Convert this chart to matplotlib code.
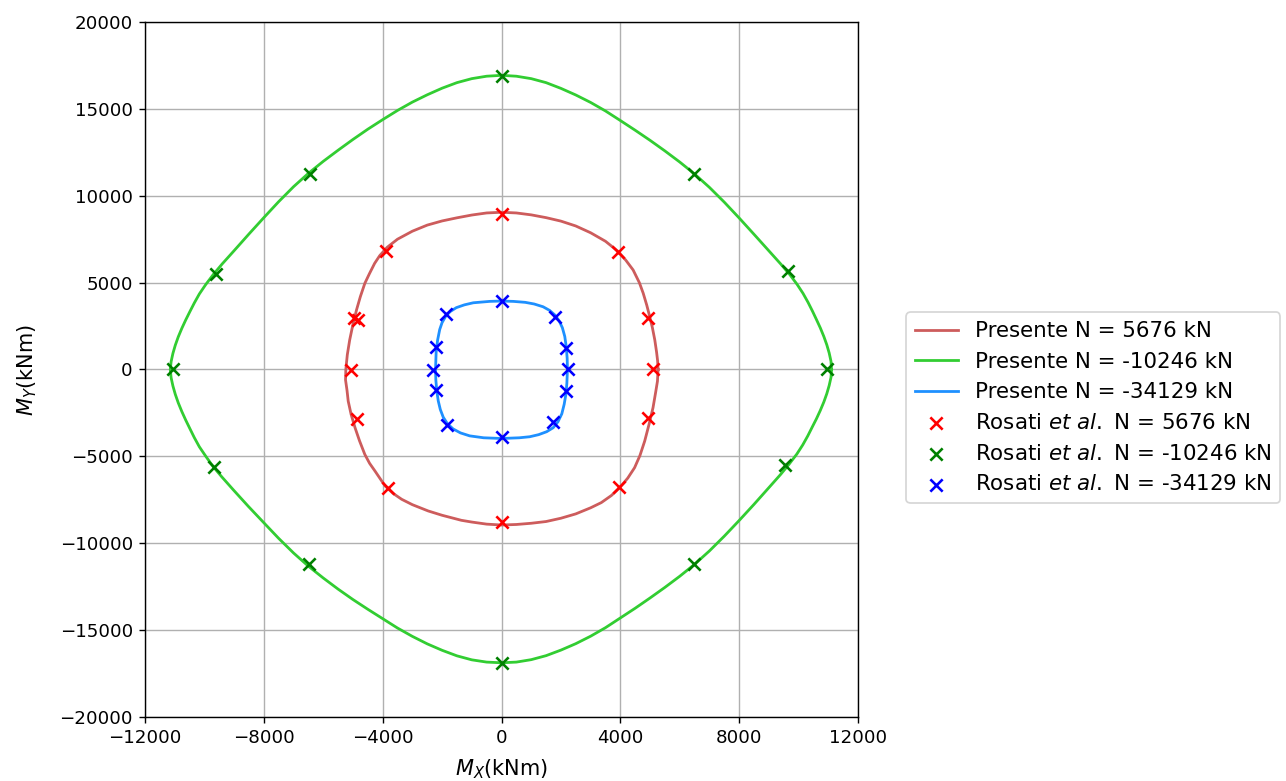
import matplotlib
matplotlib.use("Agg")
import matplotlib.pyplot as plt

# ---- Presente curves (closed loops) ----
green_mx = [11110, 11090, 11030, 10950, 10850, 10730, 10600, 10470, 10320, 10150, 9950, 9700, 9400, 9000,
            8500, 8000, 7500, 7000, 6500, 6000, 5500, 5000, 4500, 4000, 3500, 3000, 2500, 2000, 1500, 1000, 500, 0,
            -500, -1000, -1500, -2000, -2500, -3000, -3500, -4000, -4500, -5000, -5500, -6000, -6500, -7000,
            -7500, -8000, -8500, -9000, -9400, -9700, -9960, -10170, -10340, -10490, -10630, -10760, -10880,
            -10980, -11060, -11120, -11150,
            -11120, -11060, -10980, -10880, -10760, -10630, -10490, -10340, -10170, -9960, -9720, -9420, -9020,
            -8520, -8000, -7500, -7000, -6500, -6000, -5500, -5000, -4500, -4000, -3500, -3000, -2500, -2000,
            -1500, -1000, -500, 0,
            500, 1000, 1500, 2000, 2500, 3000, 3500, 4000, 4500, 5000, 5500, 6000, 6500, 7000, 7500, 8000,
            8500, 9000, 9400, 9680, 9940, 10140, 10310, 10460, 10600, 10730, 10850, 10950, 11030, 11090, 11110]
green_my = [0, 480, 950, 1420, 1900, 2400, 2880, 3350, 3860, 4380, 4900, 5470, 6070, 6830,
            7780, 8720, 9630, 10480, 11250, 11940, 12580, 13190, 13770, 14330, 14880, 15370, 15800, 16180,
            16510, 16740, 16880, 16930,
            16880, 16740, 16510, 16190, 15810, 15390, 14910, 14380, 13830, 13240, 12620, 11980, 11290, 10520,
            9660, 8740, 7800, 6840, 6080, 5470, 4880, 4350, 3830, 3330, 2850, 2370, 1880,
            1400, 930, 460, 0,
            -480, -950, -1430, -1920, -2420, -2910, -3400, -3920, -4450, -4980, -5560, -6170, -6940,
            -7880, -8820, -9720, -10560, -11320, -12000, -12640, -13240, -13800, -14340, -14880, -15360,
            -15790, -16160, -16480, -16710, -16840, -16880,
            -16840, -16700, -16470, -16150, -15780, -15350, -14860, -14300, -13740, -13150, -12540, -11900,
            -11210, -10440, -9590, -8690, -7760, -6800, -6030, -5450, -4870, -4340, -3820, -3310, -2840, -2360,
            -1870, -1390, -920, -460, 0]

red_mx = [5270, 5255, 5220, 5160, 5080, 4990, 4890, 4770, 4640, 4430, 4180, 3900, 3500, 3000, 2500, 2000,
          1500, 1000, 500, 0,
          -500, -1000, -1500, -2000, -2500, -3000, -3500, -3850, -4100, -4270, -4450, -4600, -4750, -4880,
          -5000, -5110, -5190, -5240,
          -5250, -5200, -5160, -5060, -4930, -4780, -4600, -4440, -4260, -3920, -3650, -3360, -3000, -2470,
          -2000, -1350, -1000, -500, 0,
          500, 1000, 1500, 2000, 2500, 3000, 3360, 3700, 3980, 4250, 4480, 4660, 4820, 4960, 5100, 5190,
          5250, 5270]
red_my = [0, 500, 1000, 1700, 2400, 3040, 3700, 4390, 5000, 5730, 6300, 6830, 7380, 7870, 8260, 8540,
          8740, 8900, 9010, 9050,
          9010, 8890, 8730, 8550, 8310, 7960, 7500, 7030, 6550, 6110, 5500, 4960, 4200, 3430,
          2600, 1700, 850, 0,
          -600, -1200, -1820, -2600, -3350, -4100, -4890, -5400, -5840, -6700, -7130, -7470, -7780, -8140,
          -8390, -8680, -8780, -8900, -8950,
          -8920, -8850, -8750, -8560, -8310, -7960, -7660, -7250, -6800, -6250, -5650, -4950, -4120, -3200,
          -2200, -1300, -670, 0]

blue_mx = [2220, 2210, 2180, 2130, 2050, 1940, 1800, 1620, 1400, 1100, 800, 400, 0,
           -400, -950, -1250, -1520, -1730, -1880, -2000, -2080, -2150, -2200, -2220,
           -2210, -2180, -2130, -2060, -1960, -1820, -1630, -1380, -1070, -600, 0,
           600, 950, 1250, 1520, 1740, 1900, 2030, 2110, 2170, 2200, 2220]
blue_my = [0, 650, 1300, 1900, 2400, 2800, 3130, 3400, 3610, 3770, 3865, 3920, 3940,
           3920, 3840, 3720, 3560, 3330, 3060, 2700, 2300, 1700, 1000, 0,
           -600, -1200, -1800, -2300, -2750, -3120, -3420, -3650, -3820, -3930, -3970,
           -3930, -3870, -3750, -3580, -3350, -3010, -2550, -2000, -1400, -800, 0]

# ---- Rosati et al. points ----
red_pts_x = [0, -3890, 3920, -4980, -4830, -5050, -4880, -3810, 0, 3960, 4940, 5100, 4940]
red_pts_y = [8950, 6800, 6780, 2940, 2830, -50, -2870, -6800, -8800, -6750, -2780, 30, 2950]

green_pts_x = [0, -6460, 6490, -9620, 9660, -11050, 10950, -9680, -6490, 0, 6490, 9550]
green_pts_y = [16900, 11270, 11270, 5520, 5660, 0, 0, -5600, -11190, -16900, -11220, -5480]

blue_pts_x = [0, -1870, 1800, -2200, 2170, -2300, 2250, -2200, 2170, -1850, 1740, 0]
blue_pts_y = [3920, 3190, 3030, 1310, 1210, -40, 0, -1190, -1250, -3170, -3010, -3880]

labels_lines = ["Presente N = 5676 kN", "Presente N = -10246 kN", "Presente N = -34129 kN"]
labels_pts = [r"Rosati $\it{et\ al.}$ N = 5676 kN",
              r"Rosati $\it{et\ al.}$ N = -10246 kN",
              r"Rosati $\it{et\ al.}$ N = -34129 kN"]

x_ticks = [-12000, -8000, -4000, 0, 4000, 8000, 12000]
y_ticks = [-20000, -15000, -10000, -5000, 0, 5000, 10000, 15000, 20000]

DPI = 125
fig = plt.figure(figsize=(1286 / DPI, 781 / DPI), dpi=DPI)
ax = fig.add_axes([145 / 1286, 1 - 717 / 781, (858 - 145) / 1286, (717 - 22) / 781])

ax.plot(red_mx, red_my, color="indianred", lw=1.6, label=labels_lines[0])
ax.plot(green_mx, green_my, color="limegreen", lw=1.6, label=labels_lines[1])
ax.plot(blue_mx, blue_my, color="dodgerblue", lw=1.6, label=labels_lines[2])

ax.scatter(red_pts_x, red_pts_y, marker="x", color="red", s=50, linewidths=1.5, zorder=3, label=labels_pts[0])
ax.scatter(green_pts_x, green_pts_y, marker="x", color="green", s=50, linewidths=1.5, zorder=3, label=labels_pts[1])
ax.scatter(blue_pts_x, blue_pts_y, marker="x", color="blue", s=50, linewidths=1.5, zorder=3, label=labels_pts[2])

ax.set_xlim(-12000, 12000)
ax.set_ylim(-20000, 20000)
ax.set_xticks(x_ticks)
ax.set_yticks(y_ticks)
ax.tick_params(labelsize=10.5)
ax.grid(True)
ax.set_axisbelow(True)
ax.set_xlabel(r"$M_X$(kNm)", fontsize=12, labelpad=6)
ax.set_ylabel(r"$M_Y$(kNm)", fontsize=12, labelpad=12)

ax.legend(loc="center left", bbox_to_anchor=(1.053, 0.445), fontsize=12.3)

fig.savefig("out.png", dpi=DPI)
